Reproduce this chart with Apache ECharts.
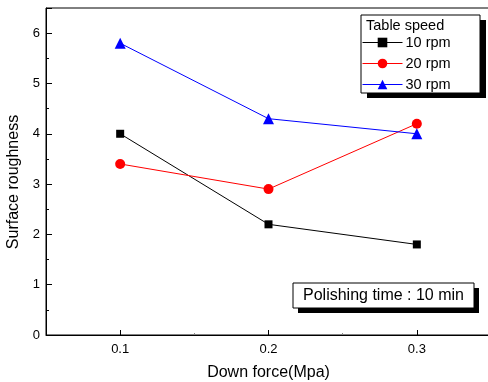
<!DOCTYPE html>
<html>
<head>
<meta charset="utf-8">
<script src="https://cdn.jsdelivr.net/npm/echarts@6/dist/echarts.min.js"></script>
<style>html,body{margin:0;padding:0;background:#fff}#c{width:488px;height:382px}</style>
</head>
<body>
<div id="c"></div>
<script>
const xValues = [0.1, 0.2, 0.3];
const rpm10 = [4.0, 2.2, 1.8];
const rpm20 = [3.4, 2.9, 4.2];
const rpm30 = [5.8, 4.3, 4.0];
const seriesNames = ['10 rpm', '20 rpm', '30 rpm'];
const xTickLabels = [0.1, 0.2, 0.3];
const xMinorTicks = [0.15, 0.25];
const yTickLabels = [0, 1, 2, 3, 4, 5, 6];

const FONT = 'Liberation Sans, Arial, sans-serif';
const pair = (ys) => xValues.map((x, i) => [x, ys[i]]);

const chart = echarts.init(document.getElementById('c'), null, {renderer: 'canvas'});
chart.setOption({
  animation: false,
  backgroundColor: '#fff',
  grid: {left: 46, top: 8, width: 445, height: 327, outerBoundsMode: 'none', containLabel: false,
         show: true, borderColor: '#000', borderWidth: 1, backgroundColor: 'transparent'},
  xAxis: [{
    type: 'value', min: 0.05, max: 0.35, interval: 0.05,
    name: 'Down force(Mpa)', nameLocation: 'middle', nameGap: 30,
    nameTextStyle: {fontFamily: FONT, fontSize: 16, color: '#000'},
    axisLine: {show: true, onZero: false, lineStyle: {color: '#000', width: 1}},
    axisTick: {show: true, inside: true, length: 5, customValues: xTickLabels, lineStyle: {color: '#000'}},
    axisLabel: {customValues: xTickLabels, fontFamily: FONT, fontSize: 13, color: '#000', margin: 8, formatter: v => v.toFixed(1)},
    splitLine: {show: false}
  }, {
    type: 'value', min: 0.05, max: 0.35, interval: 0.05, position: 'bottom',
    axisLine: {show: false},
    axisTick: {show: true, inside: true, length: 2, customValues: xMinorTicks, lineStyle: {color: '#888'}},
    axisLabel: {show: false},
    splitLine: {show: false}
  }],
  yAxis: {
    type: 'value', min: 0, max: 6.5, interval: 1,
    name: 'Surface roughness', nameLocation: 'middle', nameGap: 23, nameRotate: 90,
    nameTextStyle: {fontFamily: FONT, fontSize: 16, color: '#000', padding: [0, 21, 0, 0]},
    axisLine: {show: true, lineStyle: {color: '#000', width: 1}},
    axisTick: {show: true, inside: true, length: 6, lineStyle: {color: '#000'}},
    minorTick: {show: true, splitNumber: 2, length: 3, lineStyle: {color: '#000'}},
    axisLabel: {fontFamily: FONT, fontSize: 13, color: '#000', margin: 6,
      formatter: v => (yTickLabels.indexOf(v) >= 0 ? String(v) : '')},
    splitLine: {show: false}
  },
  legend: {
    orient: 'vertical', left: 362, top: 35, itemWidth: 40, itemHeight: 12, itemGap: 6, padding: 0,
    data: seriesNames,
    lineStyle: {width: 1},
    textStyle: {fontFamily: FONT, fontSize: 14.5, color: '#000', padding: [0, 0, 0, -2]},
    z: 10
  },
  graphic: [
    {type: 'rect', shape: {x: 367, y: 20, width: 119, height: 78}, style: {fill: '#000'}, z: -10, silent: true},
    {type: 'rect', shape: {x: 361, y: 15, width: 119, height: 78}, style: {fill: '#fff', stroke: '#000', lineWidth: 1}, z: -9, silent: true},
    {type: 'text', left: 366, top: 18, style: {text: 'Table speed', fontFamily: FONT, fontSize: 14.5, fill: '#000'}, z: 11},
    {type: 'rect', shape: {x: 298, y: 288, width: 181, height: 25}, style: {fill: '#000'}, z: -10, silent: true},
    {type: 'rect', shape: {x: 293, y: 283, width: 181, height: 25}, style: {fill: '#fff', stroke: '#000', lineWidth: 1}, z: -9, silent: true},
    {type: 'text', x: 383.5, y: 296, style: {text: 'Polishing time : 10 min', fontFamily: FONT, fontSize: 16, fill: '#000', align: 'center', verticalAlign: 'middle'}, z: 11}
  ],
  series: [
    {name: seriesNames[0], type: 'line', data: pair(rpm10), color: '#000', symbol: 'rect', symbolSize: 8,
     lineStyle: {color: '#000', width: 1}, itemStyle: {color: '#000'}},
    {name: seriesNames[1], type: 'line', data: pair(rpm20), color: '#ff0000', symbol: 'circle', symbolSize: 10,
     lineStyle: {color: '#ff0000', width: 1}, itemStyle: {color: '#ff0000'}},
    {name: seriesNames[2], type: 'line', data: pair(rpm30), color: '#0000ff', symbol: 'triangle', symbolSize: 11,
     lineStyle: {color: '#0000ff', width: 1}, itemStyle: {color: '#0000ff'}}
  ]
});
</script>
</body>
</html>
